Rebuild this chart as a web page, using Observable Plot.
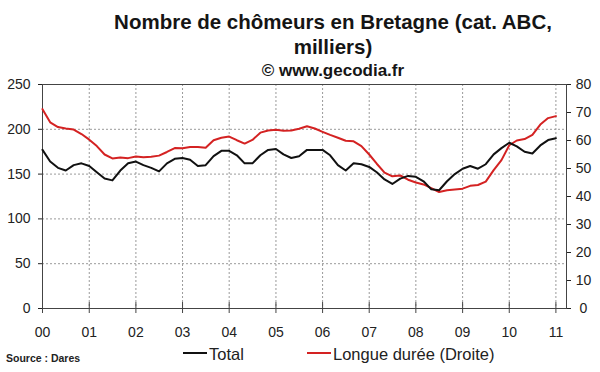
<!DOCTYPE html>
<html><head><meta charset="utf-8">
<script src="https://cdn.jsdelivr.net/npm/d3@7"></script>
<script src="https://cdn.jsdelivr.net/npm/@observablehq/plot@0.6"></script>
<style>
body{margin:0;background:#fff;}
#wrap{position:relative;width:600px;height:372px;overflow:hidden;background:#fff;font-family:"Liberation Sans",Arial,sans-serif;}
#chart{position:absolute;left:0;top:70px;}
#over{position:absolute;left:0;top:0;pointer-events:none;}
</style></head><body>
<div id="wrap"><div id="chart"></div></div>
<script>
const titleLines = ["Nombre de chômeurs en Bretagne (cat. ABC,", "milliers)"];
const credit = "© www.gecodia.fr";
const source = "Source : Dares";
const seriesNames = ["Total", "Longue durée (Droite)"];
const seriesColors = ["#111111", "#d42222"];

const startYear = 2000;
// one reading every two months, Jan 2000 .. Jan 2011
const total = [
  177,164,157,154,160,162,
  159,152,145,143,154,162,
  164,160,157,153,162,167,
  168,166,159,160,170,176,
  176,171,162,162,171,177,
  178,172,168,170,177,177,
  177,171,160,154,162,161,
  158,152,144,139,145,148,
  147,142,133,132,142,150,
  156,159,156,161,172,179,
  185,181,175,173,182,188,
  190
];
const longue = [
  71.2,66.5,64.8,64.3,63.9,62.3,
  60.3,58.0,55.0,53.6,53.9,53.7,
  54.3,54.0,54.2,54.6,55.9,57.3,
  57.2,57.7,57.7,57.4,60.1,61.0,
  61.4,60.1,58.9,60.2,62.8,63.6,
  63.8,63.5,63.6,64.2,65.1,64.3,
  63.1,62.0,61.0,59.9,59.7,58.0,
  55.0,51.7,48.5,47.2,47.5,46.0,
  45.0,44.3,43.0,41.6,42.2,42.5,
  42.8,43.8,44.1,45.3,49.4,53.0,
  58.3,60.0,60.5,62.0,65.7,68.0,
  68.7
];
const leftTicks = [0,50,100,150,200,250];
const rightTicks = [0,10,20,30,40,50,60,70,80];
const yearLabels = ["00","01","02","03","04","05","06","07","08","09","10","11"];

const dates = total.map((_, i) => new Date(Date.UTC(startYear + Math.floor(i / 6), (i % 6) * 2, 1)));
const yearTicks = yearLabels.map((_, i) => new Date(Date.UTC(startYear + i, 0, 1)));
const xDomain = [new Date(Date.UTC(2000,0,1)), new Date(Date.UTC(2011,2,25))];
const k = 250 / 80;
const rows = dates.map((d, i) => ({date: d, total: total[i], longue: longue[i] * k}));

const grid = {stroke: "#9a9a9a", strokeOpacity: 1, strokeDasharray: "2,2"};
const chart = Plot.plot({
  width: 600, height: 280,
  marginTop: 14, marginBottom: 42, marginLeft: 42, marginRight: 34,
  style: {fontFamily: "Liberation Sans, Arial, sans-serif", fontSize: "14px", color: "#222", background: "transparent", overflow: "visible"},
  x: {type: "utc", domain: xDomain},
  y: {domain: [0, 250]},
  marks: [
    Plot.gridY(leftTicks.filter(t => t > 0 && t < 250), grid),
    Plot.gridX(yearTicks.slice(1), grid),
    Plot.frame({stroke: "#444"}),
    Plot.axisY(leftTicks, {anchor: "left", tickSize: 4, tickPadding: 8, label: null}),
    Plot.axisY(rightTicks.map(t => t * k), {anchor: "right", tickSize: 4, tickPadding: 13, textAnchor: "middle", tickFormat: d => String(Math.round(d / k)), label: null}),
    Plot.axisX(yearTicks, {anchor: "bottom", tickSize: 0, tickPadding: 19, tickFormat: (d, i) => yearLabels[i], label: null}),
    Plot.ruleX(yearTicks, {x: d => d, y1: 0, y2: 0, insetTop: -6, insetBottom: -5, stroke: "#444"}),
    Plot.line(rows, {x: "date", y: "longue", stroke: seriesColors[1], strokeWidth: 2}),
    Plot.line(rows, {x: "date", y: "total", stroke: seriesColors[0], strokeWidth: 2})
  ]
});
document.getElementById("chart").appendChild(chart);

const over = d3.select("#wrap").append("svg").attr("id", "over")
  .attr("width", 600).attr("height", 372)
  .style("font-family", "Liberation Sans, Arial, sans-serif");
over.append("text").attr("x", 333).attr("y", 29).attr("text-anchor", "middle")
  .attr("font-size", 20.5).attr("font-weight", "bold").attr("fill", "#151515").text(titleLines[0]);
over.append("text").attr("x", 333).attr("y", 54).attr("text-anchor", "middle")
  .attr("font-size", 20.5).attr("font-weight", "bold").attr("fill", "#151515").text(titleLines[1]);
over.append("text").attr("x", 333).attr("y", 76).attr("text-anchor", "middle")
  .attr("font-size", 17).attr("font-weight", "bold").attr("fill", "#151515").text(credit);
over.append("text").attr("x", 6).attr("y", 362)
  .attr("font-size", 10.5).attr("font-weight", "bold").attr("fill", "#222").text(source);
const legendX = [183, 307];
seriesNames.forEach((name, i) => {
  over.append("line").attr("x1", legendX[i]).attr("x2", legendX[i] + 24)
    .attr("y1", 353).attr("y2", 353).attr("stroke", seriesColors[i]).attr("stroke-width", 2);
  over.append("text").attr("x", legendX[i] + 26).attr("y", 360)
    .attr("font-size", 16.5).attr("fill", "#222").text(name);
});
</script>
</body></html>
